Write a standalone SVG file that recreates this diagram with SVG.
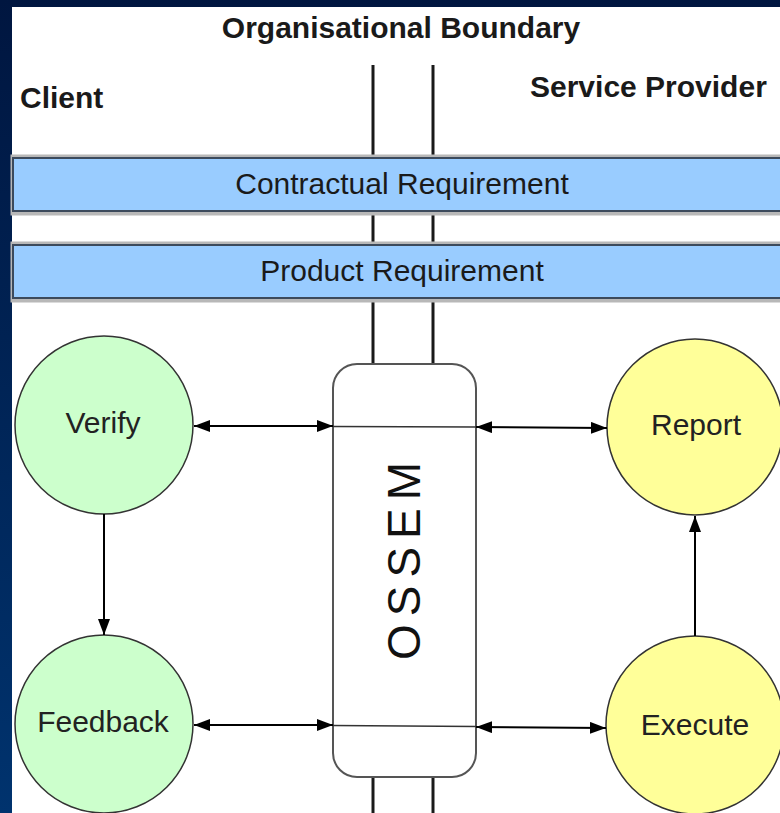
<svg xmlns="http://www.w3.org/2000/svg" width="780" height="813" viewBox="0 0 780 813">
  <defs>
    <linearGradient id="bg" x1="0" y1="0" x2="0" y2="1">
      <stop offset="0" stop-color="#001640"/>
      <stop offset="1" stop-color="#00336e"/>
    </linearGradient>
    <marker id="ah" viewBox="0 0 16 12" refX="16" refY="6" markerWidth="16" markerHeight="12" markerUnits="userSpaceOnUse" orient="auto-start-reverse">
      <path d="M0,0 L16,6 L0,12 z" fill="#000"/>
    </marker>
    <style>
      .hdr { font-family: "Liberation Sans", Arial, sans-serif; font-weight: bold; font-size: 30px; fill: #1a1a1a; }
      .bartxt { font-family: "Liberation Sans", Arial, sans-serif; font-size: 30px; fill: #1a1a1a; text-anchor: middle; }
      .lbl { font-family: "Liberation Sans", Arial, sans-serif; font-size: 30px; fill: #222; text-anchor: middle; }
      .bar { fill: #99ccff; stroke: #3c4a5c; stroke-width: 2; }
      .barsh { fill: none; stroke: #b8b8b8; stroke-width: 5; }
      .bnd { stroke: #1a1a1a; stroke-width: 3; fill: none; }
      .green { fill: #ccffcc; stroke: #333; stroke-width: 1.5; }
      .yellow { fill: #ffff99; stroke: #333; stroke-width: 1.5; }
      .conn { stroke: #000; stroke-width: 2; fill: none; }
    </style>
  </defs>

  <rect x="0" y="0" width="780" height="813" fill="url(#bg)"/>
  <rect x="12" y="7" width="768" height="806" fill="#ffffff"/>

  <g id="boundary">
    <line class="bnd" x1="373" y1="65" x2="373" y2="365"/>
    <line class="bnd" x1="433" y1="65" x2="433" y2="365"/>
    <line class="bnd" x1="373" y1="776" x2="373" y2="813"/>
    <line class="bnd" x1="433" y1="776" x2="433" y2="813"/>
  </g>

  <g id="headers">
    <text class="hdr" x="401" y="38" text-anchor="middle">Organisational Boundary</text>
    <text class="hdr" x="20" y="108">Client</text>
    <text class="hdr" x="530" y="97">Service Provider</text>
  </g>

  <g id="contractual">
    <rect class="barsh" x="13" y="157" width="780" height="56"/>
    <rect class="bar" x="13" y="158" width="780" height="53"/>
    <text class="bartxt" x="402" y="194">Contractual Requirement</text>
  </g>

  <g id="product">
    <rect class="barsh" x="13" y="244" width="780" height="56"/>
    <rect class="bar" x="13" y="245" width="780" height="53"/>
    <text class="bartxt" x="402" y="281">Product Requirement</text>
  </g>

  <g id="ossem">
    <rect x="333" y="364" width="143" height="413" rx="24" ry="24" fill="#fff" stroke="#555" stroke-width="2"/>
    <text transform="rotate(-90 420 561)" x="424" y="561" text-anchor="middle" style="font-family:'Liberation Sans', Arial, sans-serif; font-size:46px; letter-spacing:8px; fill:#111">OSSEM</text>
  </g>

  <g id="verify">
    <circle class="green" cx="104" cy="425" r="89"/>
    <text class="lbl" x="103" y="433">Verify</text>
  </g>
  <g id="feedback">
    <circle class="green" cx="104" cy="724" r="89"/>
    <text class="lbl" x="103" y="732">Feedback</text>
  </g>
  <g id="report">
    <circle class="yellow" cx="695" cy="427" r="88"/>
    <text class="lbl" x="696" y="435">Report</text>
  </g>
  <g id="execute">
    <circle class="yellow" cx="695" cy="725" r="89"/>
    <text class="lbl" x="695" y="735">Execute</text>
  </g>

  <g id="connectors">
    <line class="conn" x1="194" y1="426" x2="333" y2="426" marker-start="url(#ah)" marker-end="url(#ah)"/>
    <line x1="333" y1="426.5" x2="476" y2="427" stroke="#333" stroke-width="1.5"/>
    <line class="conn" x1="476" y1="427" x2="607" y2="428" marker-start="url(#ah)" marker-end="url(#ah)"/>
    <line class="conn" x1="194" y1="725" x2="333" y2="725" marker-start="url(#ah)" marker-end="url(#ah)"/>
    <line x1="333" y1="725.5" x2="476" y2="726.5" stroke="#333" stroke-width="1.5"/>
    <line class="conn" x1="476" y1="727" x2="606" y2="728" marker-start="url(#ah)" marker-end="url(#ah)"/>
    <line class="conn" x1="104" y1="514" x2="104" y2="635" marker-end="url(#ah)"/>
    <line class="conn" x1="695" y1="636" x2="695" y2="516" marker-end="url(#ah)"/>
  </g>
</svg>
